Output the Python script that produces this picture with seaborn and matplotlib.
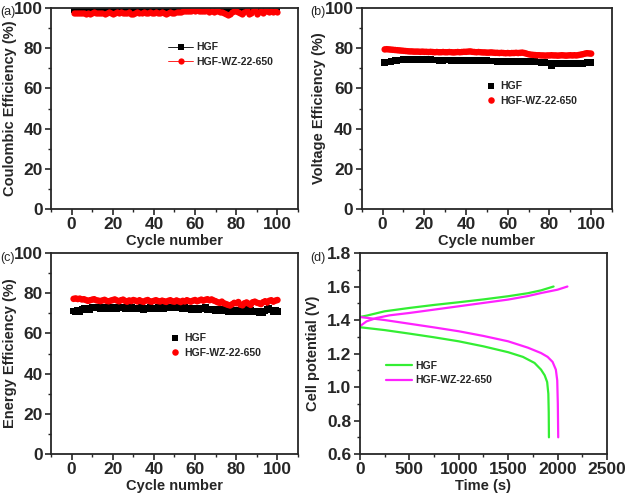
import numpy as np
import pandas as pd
import seaborn as sns
import matplotlib
matplotlib.use("Agg")
import matplotlib.pyplot as plt
from matplotlib.ticker import MultipleLocator

# Donnees
cycles = list(range(1, 101))

ce_hgf = [99.0, 98.7, 99.2, 98.9, 99.4, 98.8, 99.1, 99.3, 98.6, 99.0,
          99.2, 98.9, 99.4, 99.0, 98.7, 99.3, 99.1, 98.8, 99.2, 99.0,
          98.9, 99.3, 99.1, 99.4, 98.8, 99.0, 99.2, 99.5, 98.9, 99.1,
          99.3, 99.0, 98.8, 99.2, 99.4, 99.0, 98.9, 99.3, 99.1, 98.8,
          99.2, 99.4, 99.0, 98.9, 99.3, 99.1, 98.8, 99.2, 99.5, 99.0,
          99.3, 99.5, 99.2, 99.6, 99.4, 99.1, 99.5, 99.3, 99.6, 99.2,
          99.5, 99.3, 99.0, 99.4, 99.2, 99.6, 99.1, 99.3, 98.9, 99.2,
          99.4, 98.9, 99.2, 98.7, 98.4, 98.2, 98.6, 98.9, 99.2, 99.4,
          99.0, 98.7, 98.5, 99.1, 99.4, 98.3, 98.8, 99.2, 99.5, 98.6,
          99.0, 99.3, 98.8, 99.1, 99.4, 98.9, 99.2, 99.0, 99.3, 99.1]
ce_wz = [97.6, 97.4, 97.5, 97.7, 97.3, 97.6, 97.2, 97.4, 97.0, 97.5,
         97.8, 97.3, 97.6, 97.4, 97.7, 97.2, 97.5, 97.8, 97.3, 97.0,
         97.4, 97.8, 97.5, 98.0, 97.6, 97.3, 97.7, 97.9, 97.2, 97.0,
         97.5, 97.8, 97.3, 97.6, 97.9, 97.4, 97.7, 98.0, 97.5, 97.3,
         97.8, 97.6, 97.4, 97.9, 97.5, 97.2, 97.6, 98.0, 97.7, 97.5,
         97.9, 98.2, 97.8, 98.4, 98.6, 98.3, 98.7, 98.5, 98.8, 98.4,
         98.9, 98.6, 98.3, 98.7, 98.5, 98.9, 98.2, 98.4, 98.0, 98.3,
         98.6, 97.8, 98.2, 97.4, 96.9, 96.6, 97.0, 97.8, 98.3, 98.6,
         98.1, 97.5, 97.0, 98.2, 98.8, 96.8, 97.6, 98.4, 98.8, 97.2,
         98.0, 98.5, 97.6, 98.3, 98.7, 97.9, 98.4, 98.1, 98.6, 98.2]

ve_hgf = [73.0, 73.1, 73.2, 73.5, 73.6, 73.8, 74.0, 74.1, 74.2, 74.3,
          74.3, 74.4, 74.5, 74.5, 74.6, 74.5, 74.4, 74.5, 74.4, 74.3,
          74.3, 74.4, 74.3, 74.2, 74.2, 74.1, 74.0, 73.9, 74.0, 74.1,
          74.2, 74.1, 74.0, 74.1, 74.0, 73.9, 73.8, 73.9, 74.0, 73.9,
          73.8, 73.9, 74.0, 73.9, 73.8, 73.9, 74.0, 73.8, 73.7, 73.8,
          73.7, 73.6, 73.7, 73.6, 73.5, 73.6, 73.5, 73.4, 73.5, 73.4,
          73.5, 73.4, 73.5, 73.6, 73.5, 73.4, 73.5, 73.4, 73.3, 73.4,
          73.3, 73.2, 73.3, 73.2, 73.1, 73.0, 72.9, 72.8, 72.7, 72.6,
          71.2, 72.5, 72.6, 72.7, 72.5, 72.6, 72.5, 72.4, 72.5, 72.6,
          72.5, 72.4, 72.5, 72.6, 72.5, 72.4, 72.7, 72.8, 72.9, 73.0]
ve_wz = [79.4, 79.5, 79.4, 79.3, 79.2, 79.1, 79.0, 78.9, 78.8, 78.7,
         78.6, 78.5, 78.4, 78.4, 78.3, 78.3, 78.3, 78.2, 78.3, 78.2,
         78.2, 78.1, 78.2, 78.1, 78.0, 78.1, 78.0, 78.0, 78.1, 78.0,
         78.0, 78.1, 78.0, 77.9, 78.0, 78.1, 78.0, 78.1, 78.2, 78.2,
         78.3, 78.4, 78.2, 78.1, 78.0, 78.1, 78.0, 77.9, 77.9, 77.8,
         77.8, 77.9, 77.8, 77.7, 77.7, 77.6, 77.7, 77.6, 77.5, 77.6,
         77.5, 77.6, 77.6, 77.7, 77.6, 77.7, 77.8, 77.6, 77.3, 77.0,
         76.8, 76.7, 76.6, 76.5, 76.5, 76.4, 76.4, 76.3, 76.4, 76.4,
         76.5, 76.4, 76.4, 76.3, 76.4, 76.5, 76.4, 76.3, 76.4, 76.5,
         76.4, 76.5, 76.4, 76.6, 76.8, 77.0, 77.3, 77.5, 77.4, 77.3]

ee_hgf = [71.2, 70.8, 71.5, 71.0, 72.0, 72.5, 71.8, 72.4, 72.0, 72.8,
          73.0, 72.6, 73.1, 72.5, 72.9, 72.3, 73.0, 72.7, 72.4, 73.1,
          72.8, 72.5, 73.0, 72.6, 72.9, 72.2, 72.8, 72.4, 73.0, 72.6,
          72.1, 72.7, 72.3, 72.8, 72.0, 72.6, 72.2, 72.9, 72.4, 72.7,
          72.2, 72.8, 72.5, 73.0, 72.3, 72.7, 73.1, 72.6, 73.2, 72.8,
          73.3, 72.9, 73.1, 72.5, 72.8, 72.2, 72.6, 72.0, 72.4, 71.8,
          72.3, 71.9, 72.5, 72.1, 72.8, 72.0, 71.6, 72.2, 71.8, 71.5,
          72.0, 71.4, 71.8, 71.2, 71.6, 71.0, 71.5, 70.8, 71.3, 71.7,
          71.0, 71.5, 70.8, 71.3, 71.8, 71.0, 71.4, 70.6, 71.1, 70.7,
          70.4, 70.9, 70.5, 71.2, 71.8, 72.3, 71.6, 71.0, 71.3, 70.8]
ee_wz = [77.2, 77.4, 77.1, 77.3, 76.9, 77.0, 76.6, 76.2, 76.5, 76.8,
         77.0, 76.5, 76.3, 76.1, 76.4, 76.7, 76.2, 76.0, 76.3, 76.6,
         76.9, 76.4, 76.0, 76.5, 76.8, 76.2, 75.8, 76.4, 76.1, 76.6,
         76.3, 75.9, 76.5, 76.0, 75.7, 76.3, 76.6, 76.0, 75.8, 76.2,
         76.5, 76.1, 75.9, 76.3, 76.0, 75.7, 76.2, 76.5, 76.0, 75.8,
         76.4, 76.0, 75.6, 76.2, 75.9, 76.5, 76.1, 75.8, 76.3, 76.6,
         76.0, 76.4, 76.8, 76.3, 76.7, 77.0, 76.5, 76.9, 76.4, 76.0,
         75.5, 75.2, 75.8, 75.0, 74.6, 74.2, 73.9, 74.5, 75.2, 75.0,
         75.6, 74.3, 74.0, 75.0, 75.4, 74.8, 74.2, 75.5, 75.8, 75.3,
         75.0, 74.6, 75.5, 76.0, 75.4, 76.2, 76.5, 75.8, 76.3, 76.6]

# courbes charge / decharge (d)
t_chg_hgf = [0, 67, 250, 500, 750, 1000, 1250, 1500, 1700, 1833, 1960]
v_chg_hgf = [1.418, 1.426, 1.452, 1.472, 1.490, 1.506, 1.523, 1.542, 1.560, 1.577, 1.600]
t_dis_hgf = [0, 250, 500, 750, 1000, 1250, 1500, 1650, 1767, 1833, 1870, 1895, 1907, 1911, 1913]
v_dis_hgf = [1.357, 1.340, 1.319, 1.297, 1.273, 1.243, 1.208, 1.180, 1.144, 1.104, 1.070, 1.030, 0.960, 0.850, 0.700]
t_chg_wz = [0, 67, 167, 300, 500, 750, 1000, 1250, 1500, 1700, 1833, 2000, 2100]
v_chg_wz = [1.363, 1.392, 1.412, 1.428, 1.442, 1.462, 1.482, 1.502, 1.522, 1.543, 1.561, 1.581, 1.600]
t_dis_wz = [0, 250, 500, 750, 1000, 1250, 1500, 1700, 1833, 1900, 1950, 1983, 1997, 2003, 2007]
v_dis_wz = [1.418, 1.400, 1.378, 1.356, 1.333, 1.305, 1.273, 1.235, 1.203, 1.180, 1.150, 1.104, 1.040, 0.900, 0.700]

labels = ["HGF", "HGF-WZ-22-650"]

sns.set_theme(style="ticks")
plt.rcParams['font.family'] = ['Liberation Sans', 'DejaVu Sans']
plt.rcParams['font.weight'] = 'bold'
plt.rcParams['axes.labelweight'] = 'bold'
plt.rcParams['axes.linewidth'] = 1.3
plt.rcParams['xtick.major.width'] = 1.2
plt.rcParams['ytick.major.width'] = 1.2
plt.rcParams['xtick.minor.width'] = 1.0
plt.rcParams['ytick.minor.width'] = 1.0
plt.rcParams['xtick.major.size'] = 4
plt.rcParams['ytick.major.size'] = 4
plt.rcParams['xtick.minor.size'] = 2.5
plt.rcParams['ytick.minor.size'] = 2.5

fig = plt.figure(figsize=(6.27, 4.99), dpi=100)
ax_a = fig.add_axes([0.0813, 0.581, 0.394, 0.403])
ax_b = fig.add_axes([0.577, 0.581, 0.399, 0.403])
ax_c = fig.add_axes([0.0813, 0.090, 0.394, 0.403])
ax_d = fig.add_axes([0.574, 0.090, 0.394, 0.403])

leg_kw = dict(frameon=False, borderpad=0, borderaxespad=0, labelspacing=0.45,
              prop={'weight': 'bold', 'size': 7.5})

def style_eff(ax, ylabel, ylab_x):
    ax.set_xlim(-10, 110)
    ax.set_ylim(0, 100)
    ax.xaxis.set_major_locator(MultipleLocator(20))
    ax.xaxis.set_minor_locator(MultipleLocator(10))
    ax.yaxis.set_major_locator(MultipleLocator(20))
    ax.yaxis.set_minor_locator(MultipleLocator(10))
    ax.set_xlabel("Cycle number", fontsize=10.5, labelpad=1)
    ax.set_ylabel(ylabel, fontsize=10.5)
    ax.yaxis.set_label_coords(ylab_x, 0.5)
    ax.tick_params(labelsize=12.5, pad=2, which='both', direction='out')
    for lab in ax.get_xticklabels() + ax.get_yticklabels():
        lab.set_fontweight('bold')

# (a) efficacite coulombique
df_a = pd.DataFrame({"cycle": cycles * 2, "val": ce_hgf + ce_wz,
                     "s": [labels[0]] * 100 + [labels[1]] * 100})
sns.lineplot(data=df_a[df_a.s == labels[0]], x="cycle", y="val", ax=ax_a, color="black",
             marker="s", markersize=4, markeredgewidth=0, linewidth=0.6, label=labels[0])
sns.lineplot(data=df_a[df_a.s == labels[1]], x="cycle", y="val", ax=ax_a, color="red",
             marker="o", markersize=4.5, markeredgewidth=0, linewidth=0.6, label=labels[1])
style_eff(ax_a, "Coulombic Efficiency (%)", -0.138)
ax_a.legend(loc="upper left", bbox_to_anchor=(0.475, 0.83),
            handlelength=2.4, handletextpad=0.3, **leg_kw)

# (b) efficacite en tension
df_b = pd.DataFrame({"cycle": cycles * 2, "val": ve_hgf + ve_wz,
                     "s": [labels[0]] * 100 + [labels[1]] * 100})
sns.scatterplot(data=df_b, x="cycle", y="val", hue="s", style="s", ax=ax_b,
                palette=["black", "red"], markers=["s", "o"], s=22, linewidth=0)
style_eff(ax_b, "Voltage Efficiency (%)", -0.144)
ax_b.legend(loc="upper left", bbox_to_anchor=(0.495, 0.635),
            handlelength=1.0, handletextpad=0.4, **leg_kw)

# (c) efficacite energetique
df_c = pd.DataFrame({"cycle": cycles * 2, "val": ee_hgf + ee_wz,
                     "s": [labels[0]] * 100 + [labels[1]] * 100})
sns.scatterplot(data=df_c, x="cycle", y="val", hue="s", style="s", ax=ax_c,
                palette=["black", "red"], markers=["s", "o"], s=22, linewidth=0)
style_eff(ax_c, "Energy Efficiency (%)", -0.138)
ax_c.legend(loc="upper left", bbox_to_anchor=(0.48, 0.60),
            handlelength=1.0, handletextpad=0.4, **leg_kw)

# (d) courbes de potentiel
green = "#33ee33"
magenta = "#ff22ff"
df_d1 = pd.DataFrame({"t": t_chg_hgf, "v": v_chg_hgf})
df_d2 = pd.DataFrame({"t": t_dis_hgf, "v": v_dis_hgf})
df_d3 = pd.DataFrame({"t": t_chg_wz, "v": v_chg_wz})
df_d4 = pd.DataFrame({"t": t_dis_wz, "v": v_dis_wz})
sns.lineplot(data=df_d1, x="t", y="v", ax=ax_d, color=green, sort=False, linewidth=1.6, label=labels[0])
sns.lineplot(data=df_d3, x="t", y="v", ax=ax_d, color=magenta, sort=False, linewidth=1.6, label=labels[1])
sns.lineplot(data=df_d2, x="t", y="v", ax=ax_d, color=green, sort=False, linewidth=1.6)
sns.lineplot(data=df_d4, x="t", y="v", ax=ax_d, color=magenta, sort=False, linewidth=1.6)
ax_d.set_xlim(0, 2500)
ax_d.set_ylim(0.6, 1.8)
ax_d.xaxis.set_major_locator(MultipleLocator(500))
ax_d.xaxis.set_minor_locator(MultipleLocator(250))
ax_d.yaxis.set_major_locator(MultipleLocator(0.2))
ax_d.yaxis.set_minor_locator(MultipleLocator(0.1))
ax_d.set_xlabel("Time (s)", fontsize=10.5, labelpad=1)
ax_d.set_ylabel("Cell potential (V)", fontsize=10.5)
ax_d.yaxis.set_label_coords(-0.16, 0.5)
ax_d.tick_params(labelsize=12.5, pad=2, which='both', direction='out')
for lab in ax_d.get_xticklabels() + ax_d.get_yticklabels():
    lab.set_fontweight('bold')
ax_d.legend(loc="upper left", bbox_to_anchor=(0.105, 0.465),
            handlelength=2.5, handletextpad=0.3, **leg_kw)

# etiquettes des panneaux
for txt, x, y in [("(a)", 0.001, 0.987), ("(b)", 0.495, 0.987), ("(c)", 0.001, 0.495), ("(d)", 0.495, 0.495)]:
    fig.text(x, y, txt, fontsize=9, fontweight='normal', va='top', ha='left')

fig.savefig("out.png", dpi=100)
